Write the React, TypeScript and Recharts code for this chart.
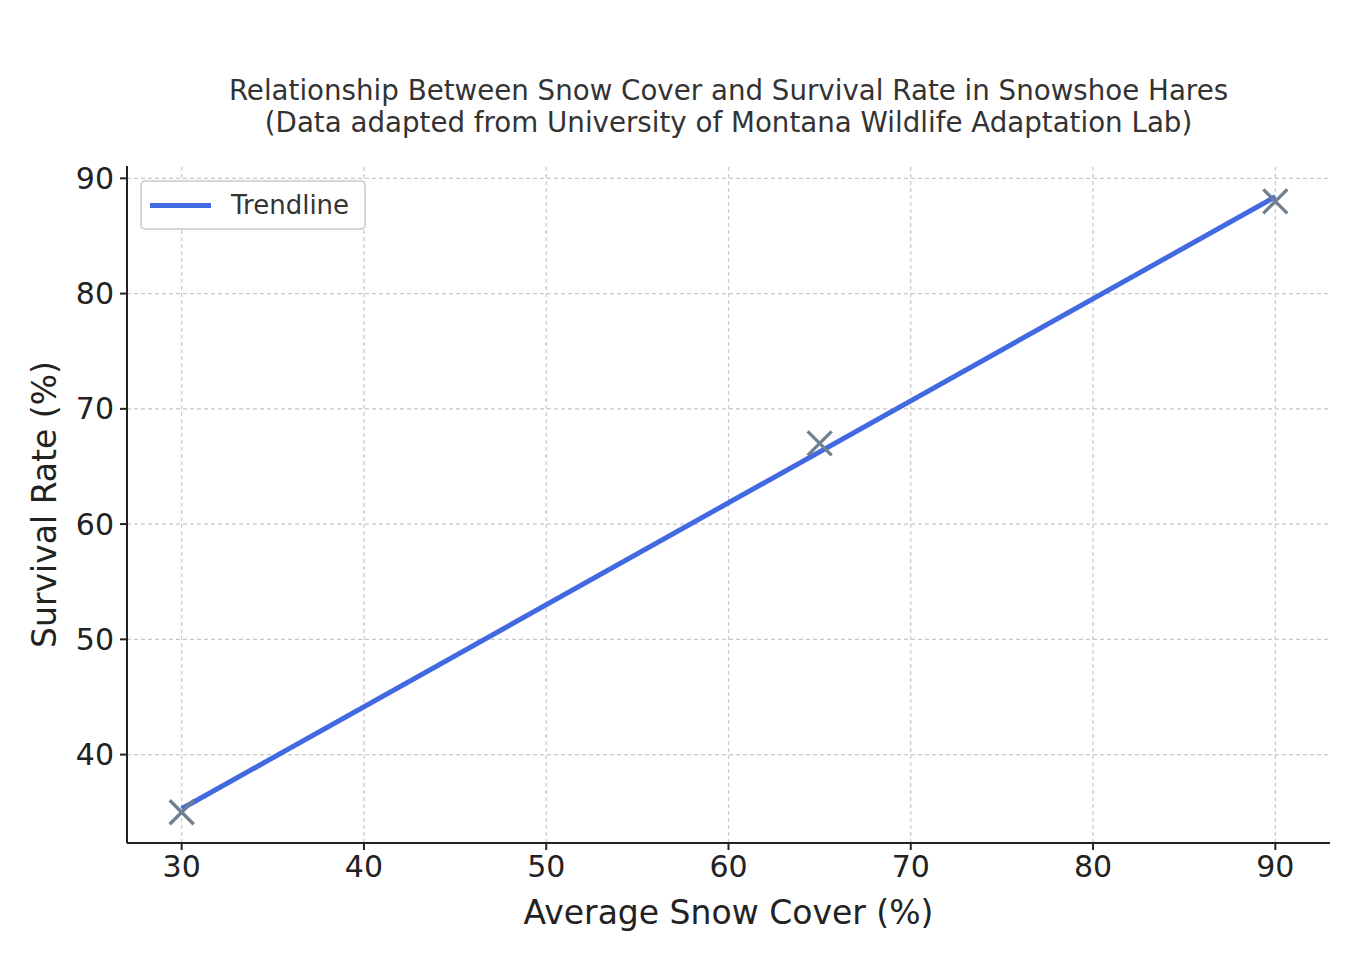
import {
  ComposedChart,
  Line,
  ReferenceLine,
  Scatter,
  XAxis,
  YAxis,
} from "recharts";

const snowCover = [30, 65, 90];
const survivalRate = [35, 67, 88];

// trendline ends
const trendX = [30, 90];
const trendY = [35.3, 88.4];

const xTicks = [30, 40, 50, 60, 70, 80, 90];
const yTicks = [40, 50, 60, 70, 80, 90];

const points = snowCover.map((x, i) => ({ x, y: survivalRate[i] }));
const trend = trendX.map((x, i) => ({ x, y: trendY[i] }));

const FONT = "'DejaVu Sans', sans-serif";
const INK = "#222";
const GRID = "#c8c8c8";

function Cross(props: any) {
  const { cx, cy } = props;
  const r = 12;
  return (
    <g stroke="#708090" strokeWidth={3.3}>
      <line x1={cx - r} y1={cy - r} x2={cx + r} y2={cy + r} />
      <line x1={cx - r} y1={cy + r} x2={cx + r} y2={cy - r} />
    </g>
  );
}

export default function App() {
  return (
    <div
      style={{
        position: "absolute",
        left: 0,
        top: 0,
        width: 1360,
        height: 960,
        background: "#fff",
        fontFamily: FONT,
      }}
    >
      <div
        style={{
          position: "absolute",
          left: 0,
          width: 1457,
          top: 75,
          textAlign: "center",
          fontSize: 27.7,
          lineHeight: "32px",
          color: "#333",
        }}
      >
        Relationship Between Snow Cover and Survival Rate in Snowshoe Hares
        <br />
        (Data adapted from University of Montana Wildlife Adaptation Lab)
      </div>
      <ComposedChart
        width={1360}
        height={960}
        margin={{ top: 166, right: 30, bottom: 87, left: 67 }}
      >
        {xTicks.map((t) => (
          <ReferenceLine
            key={"gx" + t}
            x={t}
            stroke={GRID}
            strokeDasharray="4 3"
            strokeWidth={1.2}
          />
        ))}
        {yTicks.map((t) => (
          <ReferenceLine
            key={"gy" + t}
            y={t}
            stroke={GRID}
            strokeDasharray="4 3"
            strokeWidth={1.2}
          />
        ))}
        <XAxis
          type="number"
          dataKey="x"
          domain={[27, 93]}
          ticks={xTicks}
          allowDataOverflow
          height={30}
          tickSize={7}
          tickMargin={4}
          axisLine={{ stroke: INK, strokeWidth: 2 }}
          tickLine={{ stroke: INK, strokeWidth: 2 }}
          tick={{ fontSize: 30, fill: INK, fontFamily: FONT, dy: 2 }}
          label={{
            value: "Average Snow Cover (%)",
            position: "insideBottom",
            offset: -51,
            fontSize: 33,
            fill: INK,
            fontFamily: FONT,
          }}
        />
        <YAxis
          type="number"
          dataKey="y"
          domain={[32.33, 91.07]}
          ticks={yTicks}
          allowDataOverflow
          width={60}
          tickSize={7}
          tickMargin={6}
          axisLine={{ stroke: INK, strokeWidth: 2 }}
          tickLine={{ stroke: INK, strokeWidth: 2 }}
          tick={{ fontSize: 30, fill: INK, fontFamily: FONT }}
          label={{
            value: "Survival Rate (%)",
            angle: -90,
            position: "center",
            dx: -53,
            fontSize: 33,
            fill: INK,
            fontFamily: FONT,
          }}
        />
        <Line
          data={trend}
          dataKey="y"
          name="Trendline"
          stroke="#4169E1"
          strokeWidth={5}
          dot={false}
          activeDot={false}
          isAnimationActive={false}
        />
        <Scatter
          data={points}
          dataKey="y"
          name="Data"
          legendType="none"
          shape={<Cross />}
          isAnimationActive={false}
        />
      </ComposedChart>
      <div
        style={{
          position: "absolute",
          left: 140,
          top: 180,
          border: "2px solid #d6d6d6",
          borderRadius: 5,
          background: "#fff",
          width: 226,
          height: 50,
          boxSizing: "border-box",
          display: "flex",
          alignItems: "center",
          fontSize: 26,
          color: "#333",
        }}
      >
        <span
          style={{
            display: "inline-block",
            width: 61,
            height: 5,
            background: "#4169E1",
            marginLeft: 8,
            marginRight: 20,
          }}
        />
        Trendline
      </div>
    </div>
  );
}
